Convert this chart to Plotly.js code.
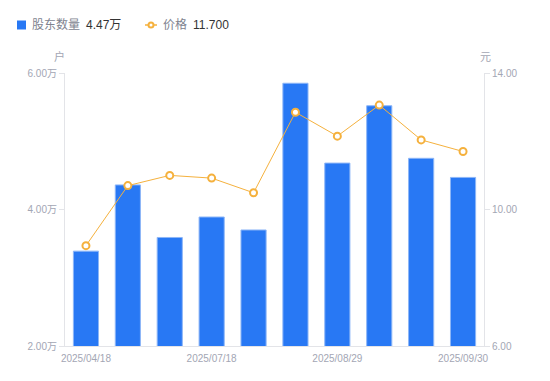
<!DOCTYPE html>
<html>
<head>
<meta charset="utf-8">
<script src="https://cdn.plot.ly/plotly-3.0.1.min.js"></script>
<style>html,body{margin:0;padding:0;background:#fff;}#chart{width:550px;height:381px;}</style>
</head>
<body>
<div id="chart"></div>
<script>
const dates = ["2025/04/18","2025/06/10","2025/06/30","2025/07/18","2025/07/31","2025/08/15","2025/08/29","2025/09/10","2025/09/19","2025/09/30"];
const shownDates = ["2025/04/18","2025/07/18","2025/08/29","2025/09/30"];
const holders = [3.39, 4.36, 3.59, 3.89, 3.70, 5.85, 4.68, 5.52, 4.75, 4.47];   // 万户
const price = [8.94, 10.70, 11.00, 10.92, 10.49, 12.85, 12.15, 13.06, 12.04, 11.70]; // 元
const leftTicks = [2, 4, 6];
const rightTicks = [6, 10, 14];

const L = 65, R = 484, T = 73, B = 346;
const px = v => (v - L) / (R - L);
const py = v => (B - v) / (B - T);
const FONT = "Liberation Sans, Arial, Noto Sans CJK SC, sans-serif";
const tickColor = "#a3a6b4";
const axisColor = "#e3e4e8";

const traces = [
  {
    type: "bar", x: dates, y: holders, name: "股东数量", yaxis: "y",
    marker: {color: "#2878f4", line: {color: "#8db6f7", width: 1}},
    width: 0.6, hoverinfo: "x+y"
  },
  {
    type: "scatter", mode: "lines+markers", x: dates, y: price, name: "价格", yaxis: "y2",
    line: {color: "#f5b13d", width: 1},
    marker: {symbol: "circle", size: 7, color: "#ffffff", line: {color: "#f5b13d", width: 2}}
  }
];

const lastH = holders[holders.length - 1].toFixed(2) + "万";
const lastP = price[price.length - 1].toFixed(3);

const layout = {
  width: 550, height: 381,
  margin: {l: L, r: 550 - R, t: T, b: 381 - B, pad: 0, autoexpand: false},
  paper_bgcolor: "#fff", plot_bgcolor: "#fff",
  showlegend: false,
  font: {family: FONT, size: 10, color: tickColor},
  bargap: 0.4,
  xaxis: {
    type: "category", range: [-0.5, dates.length - 0.5], automargin: false,
    tickmode: "array", tickvals: shownDates, ticktext: shownDates, ticklabelstandoff: 3,
    showgrid: false, zeroline: false, showline: true, linecolor: axisColor, linewidth: 1,
    ticks: "", tickfont: {size: 10, color: tickColor}, fixedrange: true
  },
  yaxis: {
    range: [2, 6], automargin: false, tickvals: leftTicks, ticktext: leftTicks.map(v => v.toFixed(2) + "万"),
    showgrid: false, zeroline: false, showline: true, linecolor: axisColor, linewidth: 1,
    ticks: "outside", ticklen: 5, tickcolor: axisColor, tickfont: {size: 10, color: tickColor},
    fixedrange: true
  },
  yaxis2: {
    overlaying: "y", side: "right", range: [6, 14], automargin: false,
    tickvals: rightTicks, ticktext: rightTicks.map(v => v.toFixed(2)),
    showgrid: false, zeroline: false, showline: true, linecolor: axisColor, linewidth: 1,
    ticks: "outside", ticklen: 5, tickcolor: axisColor, tickfont: {size: 10, color: tickColor},
    fixedrange: true
  },
  annotations: [
    {xref: "paper", yref: "paper", x: px(59), y: py(56), text: "户", showarrow: false,
     xanchor: "center", yanchor: "middle", font: {size: 11, color: tickColor}},
    {xref: "paper", yref: "paper", x: px(485), y: py(57), text: "元", showarrow: false,
     xanchor: "center", yanchor: "middle", font: {size: 11, color: tickColor}},
    {xref: "paper", yref: "paper", x: px(30), y: py(25), text: "股东数量", showarrow: false,
     xanchor: "left", yanchor: "middle", font: {size: 12, color: "#80838f"}},
    {xref: "paper", yref: "paper", x: px(84), y: py(25), text: lastH, showarrow: false,
     xanchor: "left", yanchor: "middle", font: {size: 12, color: "#333333"}},
    {xref: "paper", yref: "paper", x: px(161), y: py(25), text: "价格", showarrow: false,
     xanchor: "left", yanchor: "middle", font: {size: 12, color: "#80838f"}},
    {xref: "paper", yref: "paper", x: px(191), y: py(25), text: lastP, showarrow: false,
     xanchor: "left", yanchor: "middle", font: {size: 12, color: "#333333"}}
  ],
  shapes: [
    {type: "rect", xref: "paper", yref: "paper", x0: px(17), x1: px(26), y0: py(29.5), y1: py(20.5),
     fillcolor: "#2878f4", line: {width: 0}},
    {type: "line", xref: "paper", yref: "paper", x0: px(145), x1: px(157), y0: py(25), y1: py(25),
     line: {color: "#f5b13d", width: 1.5}},
    {type: "circle", xref: "paper", yref: "paper", x0: px(148.5), x1: px(153.5), y0: py(27.5), y1: py(22.5),
     fillcolor: "#ffffff", line: {color: "#f5b13d", width: 2}}
  ]
};

Plotly.newPlot("chart", traces, layout, {displayModeBar: false, staticPlot: true});
</script>
</body>
</html>
